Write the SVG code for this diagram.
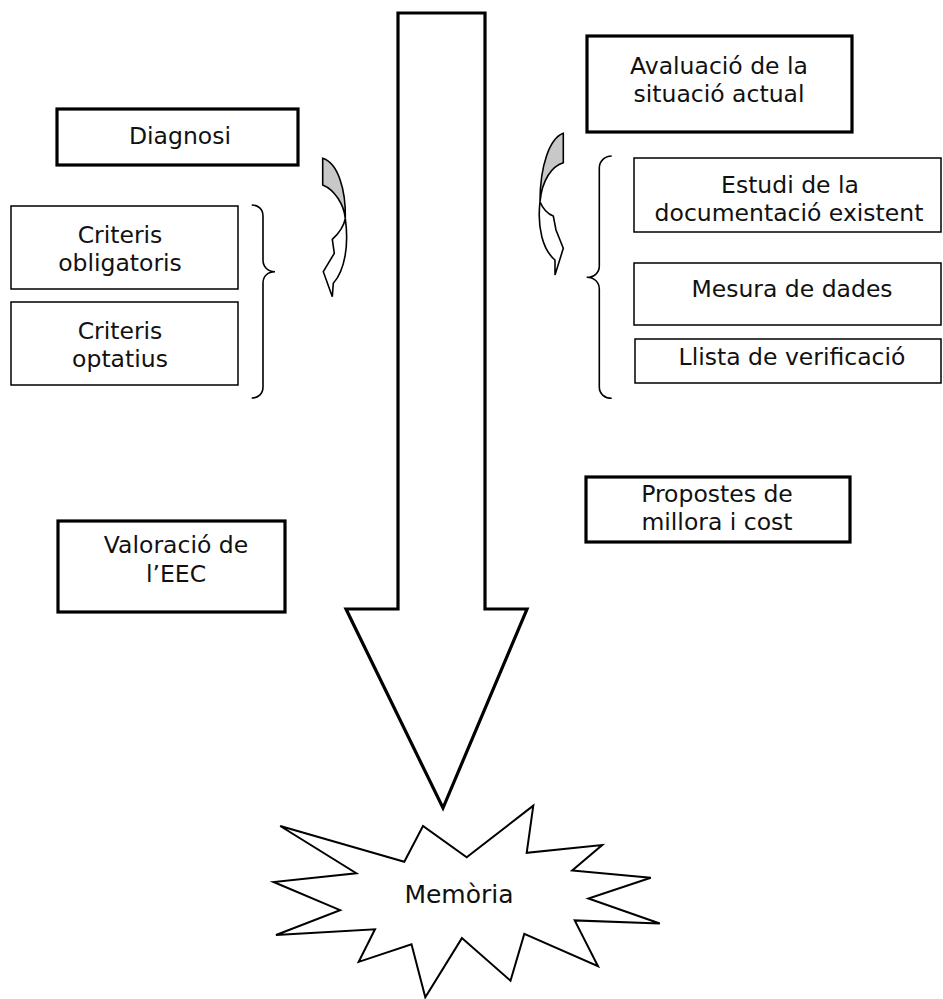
<svg xmlns="http://www.w3.org/2000/svg" width="943" height="999" viewBox="0 0 943 999">
<style>
.thick{fill:#fff;stroke:#000;stroke-width:3.2}
.thin{fill:#fff;stroke:#000;stroke-width:1.5}
.lbl{font-family:"DejaVu Sans","Verdana",sans-serif;font-size:23.5px;fill:#111;text-anchor:middle}
.brace{fill:none;stroke:#000;stroke-width:1.6}
.carrow{fill:#fff;stroke:#000;stroke-width:1.6;stroke-linejoin:miter}
.cgray{fill:#c8c8c8;stroke:#000;stroke-width:1.6}
</style>
<rect width="943" height="999" fill="#fff"/>
<g id="connectors">
  <polygon id="main-arrow" points="398,13 485,13 485,609 527,609 443,808 346,609 398,609" fill="#fff" stroke="#000" stroke-width="3.2"/>
  <g id="curved-left">
    <path class="carrow" d="M345.3,218.3 C349,245 345,270 333.3,283.3 L332.3,296.7 L323.3,271.7 L334.3,253.3 L332.3,239.3 C338,234 344,226 345.3,218.3 Z"/>
    <path class="cgray" d="M322.7,158.3 C338,163 346,190 345.3,218.3 C344,205 335,190 322.7,185 Z"/>
  </g>
  <g id="curved-right">
    <path class="carrow" d="M540,201.7 C537,228 543,250 555,260 L555,275 L563.3,248.3 L556,230 L553.3,216 C548,214 543,209 540,201.7 Z"/>
    <path class="cgray" d="M563.3,133.3 C550,138 540,165 540,201.7 C542,180 552,166 563.3,162.7 Z"/>
  </g>
  <path id="brace-left" class="brace" d="M251.7,205 C258,205 263,209 263,216 L263,260 C263,267 268,271.7 275,271.7 C268,271.7 263,276 263,283 L263,387 C263,394 258,398 251.7,398"/>
  <path id="brace-right" class="brace" d="M611.7,156 C605,156 599.3,161 599.3,168 L599.3,266 C599.3,273 594,277.3 586.7,277.3 C594,277.3 599.3,282 599.3,289 L599.3,387 C599.3,394 605,398.3 611.7,398.3"/>
</g>
<g id="diagnosi">
  <rect class="thick" x="57" y="109" width="241" height="56"/>
  <text class="lbl" x="180" y="144">Diagnosi</text>
</g>
<g id="criteris-obligatoris">
  <rect class="thin" x="11" y="206" width="227" height="83"/>
  <text class="lbl" x="120" y="243">Criteris</text>
  <text class="lbl" x="120" y="271">obligatoris</text>
</g>
<g id="criteris-optatius">
  <rect class="thin" x="11" y="302" width="227" height="83"/>
  <text class="lbl" x="120" y="339">Criteris</text>
  <text class="lbl" x="120" y="367">optatius</text>
</g>
<g id="valoracio">
  <rect class="thick" x="58" y="521" width="227" height="91"/>
  <text class="lbl" x="176" y="553">Valoració de</text>
  <text class="lbl" x="176" y="582">l’EEC</text>
</g>
<g id="avaluacio">
  <rect class="thick" x="587" y="36" width="265" height="96"/>
  <text class="lbl" x="719" y="74">Avaluació de la</text>
  <text class="lbl" x="719" y="102">situació actual</text>
</g>
<g id="estudi">
  <rect class="thin" x="634" y="158" width="307" height="74"/>
  <text class="lbl" x="790" y="193">Estudi de la</text>
  <text class="lbl" x="789" y="221">documentació existent</text>
</g>
<g id="mesura">
  <rect class="thin" x="634" y="263" width="307" height="62"/>
  <text class="lbl" x="792" y="297">Mesura de dades</text>
</g>
<g id="llista">
  <rect class="thin" x="635" y="339" width="306" height="44"/>
  <text class="lbl" x="792" y="365">Llista de verificació</text>
</g>
<g id="propostes">
  <rect class="thick" x="586" y="477" width="264" height="65"/>
  <text class="lbl" x="717" y="502">Propostes de</text>
  <text class="lbl" x="717" y="530">millora i cost</text>
</g>
<g id="memoria">
  <polygon fill="#fff" stroke="#000" stroke-width="2" stroke-linejoin="miter" points="466.7,857.3 533.3,805.6 526.7,852.8 602.2,845.1 572.2,870.5 650.8,877.8 588.4,898.5 659.8,923.5 574.7,920.4 598.0,966.2 524.3,933.9 510.5,980.7 461.9,938.1 425.3,997.3 411.5,944.3 358.7,961.9 375,929.3 276,935 340.1,910.1 273.6,882 356.3,873.2 280.2,826 404.3,861.7 423,826 "/>
  <text class="lbl" x="459" y="903" style="font-size:25px">Memòria</text>
</g>
</svg>
